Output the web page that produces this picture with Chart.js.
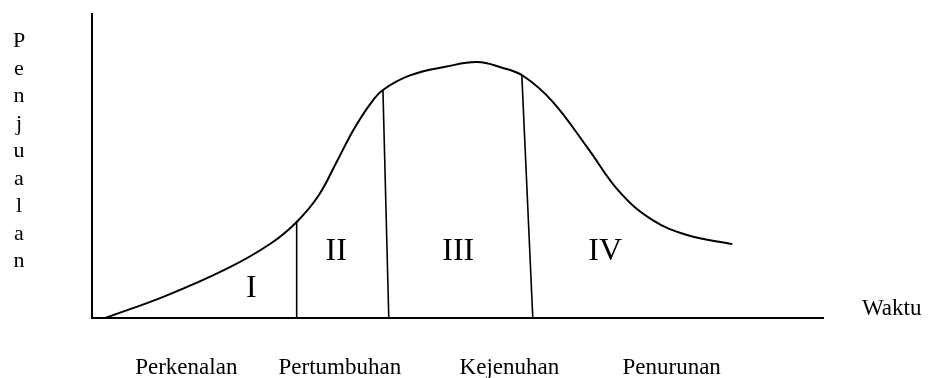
<!DOCTYPE html>
<html>
<head>
<meta charset="utf-8">
<script src="https://cdn.jsdelivr.net/npm/chart.js@4/dist/chart.umd.min.js"></script>
<style>
html,body{margin:0;padding:0;background:#fff;}
canvas{display:block;}
</style>
</head>
<body>
<canvas id="c" width="929" height="378"></canvas>
<script>
// Product life cycle curve (time vs. sales, arbitrary units 0-100)
const timeX  = [1.8, 10.0, 18.6, 24.5, 28.0, 31.0, 33.5, 35.8, 38.0, 39.8, 43.5, 48.5, 52.7, 56.0, 59.0, 63.0, 67.7, 72.2, 76.7, 81.4, 87.6];
const salesY = [0.0, 7.2, 16.4, 24.6, 31.6, 40.3, 51.5, 62.0, 70.2, 75.0, 79.8, 82.7, 84.2, 82.4, 79.6, 71.2, 56.3, 41.4, 32.2, 27.3, 24.3];

// Stage boundaries
const boundaryTopX    = [28.0, 39.8, 58.8];
const boundaryBottomX = [28.0, 40.6, 60.3];
const boundaryTopY    = [31.6, 75.0, 79.8];

// Stage labels
const stageNumerals = ['I', 'II', 'III', 'IV'];
const numeralX      = [21.8, 33.4, 50.1, 70.2];
const numeralY      = [6.9, 19.1, 19.1, 19.1];
const stageNames    = ['Perkenalan', 'Pertumbuhan', 'Kejenuhan', 'Penurunan'];
const stageNameX    = [12.9, 33.9, 57.1, 79.3];

const yTitle = 'Penjualan';
const xTitle = 'Waktu';

const FONT = '"Liberation Serif", "Times New Roman", serif';

const datasets = [{
  data: timeX.map((x, i) => ({x: x, y: salesY[i]})),
  borderColor: '#000',
  borderWidth: 2,
  pointRadius: 0,
  tension: 0.4,
  fill: false
}];
boundaryTopX.forEach((tx, i) => {
  datasets.push({
    data: [{x: tx, y: boundaryTopY[i]}, {x: boundaryBottomX[i], y: 0}],
    borderColor: '#000',
    borderWidth: 1.6,
    pointRadius: 0,
    tension: 0,
    fill: false
  });
});

const textPlugin = {
  id: 'texts',
  afterDraw(chart) {
    const ctx = chart.ctx;
    const xs = chart.scales.x, ys = chart.scales.y;
    const area = chart.chartArea;
    ctx.save();
    ctx.fillStyle = '#000';
    // Roman numerals
    ctx.font = '32px ' + FONT;
    ctx.textAlign = 'center';
    ctx.textBaseline = 'alphabetic';
    stageNumerals.forEach((t, i) => {
      ctx.fillText(t, xs.getPixelForValue(numeralX[i]), ys.getPixelForValue(numeralY[i]));
    });
    // Stage names
    ctx.font = '23px ' + FONT;
    stageNames.forEach((t, i) => {
      ctx.fillText(t, xs.getPixelForValue(stageNameX[i]), area.bottom + 56);
    });
    // x title
    ctx.textAlign = 'left';
    ctx.fillText(xTitle, area.right + 39, area.bottom - 3);
    // y title, stacked letters
    ctx.font = '22px ' + FONT;
    ctx.textAlign = 'center';
    const letters = yTitle.split('');
    letters.forEach((ch, i) => {
      ctx.fillText(ch, 19, area.top + 33 + i * 27.5);
    });
    ctx.restore();
  }
};

new Chart(document.getElementById('c'), {
  type: 'line',
  data: {datasets: datasets},
  options: {
    responsive: false,
    animation: false,
    events: [],
    layout: {padding: {left: 92, right: 106, top: 14, bottom: 60}},
    plugins: {legend: {display: false}, tooltip: {enabled: false}},
    scales: {
      x: {
        type: 'linear', min: 0, max: 100,
        ticks: {display: false},
        grid: {display: false, drawTicks: false},
        border: {display: true, color: '#000', width: 2}
      },
      y: {
        type: 'linear', min: 0, max: 100,
        ticks: {display: false},
        grid: {display: false, drawTicks: false},
        border: {display: true, color: '#000', width: 2}
      }
    }
  },
  plugins: [textPlugin]
});
</script>
</body>
</html>
